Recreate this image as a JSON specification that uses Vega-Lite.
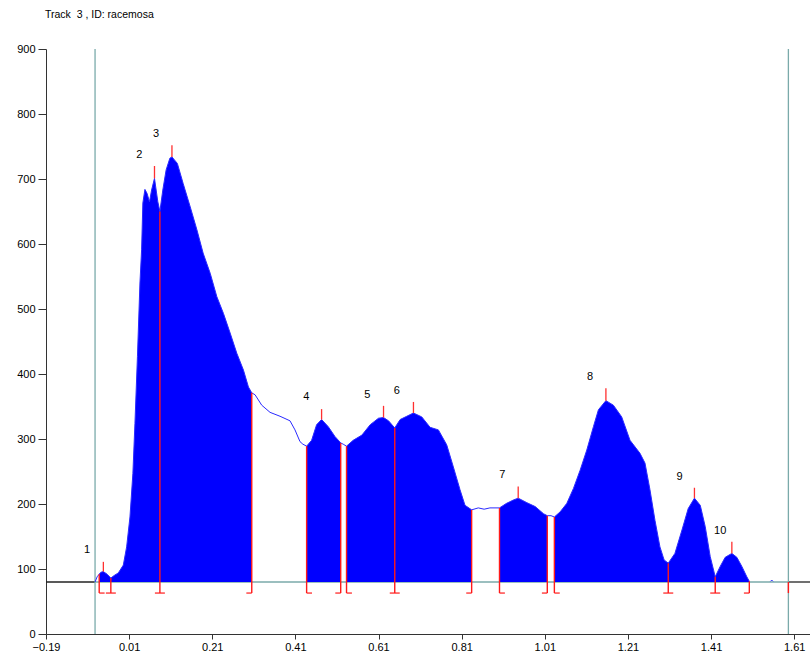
{
  "$schema": "https://vega.github.io/schema/vega-lite/v6.json",
  "width": 764,
  "height": 585,
  "autosize": {"type": "none"},
  "padding": {"left": 46, "top": 49, "right": 0, "bottom": 19},
  "background": "white",
  "title": {"text": "Track \u00a03 , ID: racemosa", "anchor": "start", "frame": "group", "offset": 23, "fontSize": 10.5, "fontWeight": "normal", "font": "Liberation Sans", "color": "black", "dx": -1},
  "config": {
    "view": {"stroke": null},
    "axis": {"grid": false, "domainColor": "#333333", "tickColor": "#333333", "labelColor": "black", "labelFont": "Liberation Sans", "labelFontSize": 11, "titleFontSize": 0, "labelFlush": false, "labelOverlap": false}
  },
  "datasets": {
    "curve": [
      {"x": -0.072, "y": 80, "g": 0, "p": 1},
      {"x": -0.067, "y": 88, "g": 0, "p": 1},
      {"x": -0.062, "y": 92, "g": 1, "p": 1},
      {"x": -0.058, "y": 95, "g": 1, "p": 1},
      {"x": -0.052, "y": 96, "g": 1, "p": 1},
      {"x": -0.043, "y": 92, "g": 1, "p": 1},
      {"x": -0.034, "y": 86, "g": 1, "p": 1},
      {"x": -0.026, "y": 90, "g": 1, "p": 1},
      {"x": -0.016, "y": 94, "g": 1, "p": 1},
      {"x": -0.004, "y": 106, "g": 1, "p": 1},
      {"x": 0.004, "y": 134, "g": 1, "p": 1},
      {"x": 0.012, "y": 180, "g": 1, "p": 1},
      {"x": 0.019, "y": 247, "g": 1, "p": 1},
      {"x": 0.024, "y": 324, "g": 1, "p": 1},
      {"x": 0.030, "y": 427, "g": 1, "p": 1},
      {"x": 0.036, "y": 540, "g": 1, "p": 1},
      {"x": 0.040, "y": 591, "g": 1, "p": 1},
      {"x": 0.043, "y": 663, "g": 1, "p": 1},
      {"x": 0.048, "y": 684, "g": 1, "p": 1},
      {"x": 0.053, "y": 678, "g": 1, "p": 1},
      {"x": 0.059, "y": 665, "g": 1, "p": 1},
      {"x": 0.064, "y": 683, "g": 1, "p": 1},
      {"x": 0.071, "y": 701, "g": 1, "p": 1},
      {"x": 0.079, "y": 665, "g": 1, "p": 1},
      {"x": 0.084, "y": 650, "g": 1, "p": 1},
      {"x": 0.091, "y": 683, "g": 1, "p": 1},
      {"x": 0.099, "y": 714, "g": 1, "p": 1},
      {"x": 0.108, "y": 732, "g": 1, "p": 1},
      {"x": 0.113, "y": 734, "g": 1, "p": 1},
      {"x": 0.126, "y": 724, "g": 1, "p": 1},
      {"x": 0.140, "y": 693, "g": 1, "p": 1},
      {"x": 0.157, "y": 657, "g": 1, "p": 1},
      {"x": 0.173, "y": 622, "g": 1, "p": 1},
      {"x": 0.188, "y": 586, "g": 1, "p": 1},
      {"x": 0.205, "y": 555, "g": 1, "p": 1},
      {"x": 0.221, "y": 519, "g": 1, "p": 1},
      {"x": 0.237, "y": 493, "g": 1, "p": 1},
      {"x": 0.253, "y": 463, "g": 1, "p": 1},
      {"x": 0.269, "y": 432, "g": 1, "p": 1},
      {"x": 0.285, "y": 406, "g": 1, "p": 1},
      {"x": 0.297, "y": 380, "g": 1, "p": 1},
      {"x": 0.305, "y": 371, "g": 1, "p": 1},
      {"x": 0.313, "y": 368, "g": 0, "p": 1},
      {"x": 0.329, "y": 352, "g": 0, "p": 1},
      {"x": 0.349, "y": 341, "g": 0, "p": 1},
      {"x": 0.373, "y": 335, "g": 0, "p": 1},
      {"x": 0.397, "y": 328, "g": 0, "p": 1},
      {"x": 0.409, "y": 314, "g": 0, "p": 1},
      {"x": 0.421, "y": 296, "g": 0, "p": 1},
      {"x": 0.428, "y": 292, "g": 0, "p": 1},
      {"x": 0.437, "y": 289, "g": 2, "p": 1},
      {"x": 0.449, "y": 298, "g": 2, "p": 1},
      {"x": 0.461, "y": 322, "g": 2, "p": 1},
      {"x": 0.473, "y": 330, "g": 2, "p": 1},
      {"x": 0.489, "y": 319, "g": 2, "p": 1},
      {"x": 0.505, "y": 304, "g": 2, "p": 1},
      {"x": 0.519, "y": 294, "g": 2, "p": 1},
      {"x": 0.525, "y": 292, "g": 0, "p": 1},
      {"x": 0.533, "y": 289, "g": 3, "p": 1},
      {"x": 0.549, "y": 298, "g": 3, "p": 1},
      {"x": 0.570, "y": 306, "g": 3, "p": 1},
      {"x": 0.590, "y": 322, "g": 3, "p": 1},
      {"x": 0.610, "y": 332, "g": 3, "p": 1},
      {"x": 0.622, "y": 333, "g": 3, "p": 1},
      {"x": 0.634, "y": 328, "g": 3, "p": 1},
      {"x": 0.649, "y": 317, "g": 3, "p": 1},
      {"x": 0.662, "y": 330, "g": 3, "p": 1},
      {"x": 0.678, "y": 335, "g": 3, "p": 1},
      {"x": 0.694, "y": 340, "g": 3, "p": 1},
      {"x": 0.714, "y": 334, "g": 3, "p": 1},
      {"x": 0.734, "y": 318, "g": 3, "p": 1},
      {"x": 0.754, "y": 314, "g": 3, "p": 1},
      {"x": 0.774, "y": 291, "g": 3, "p": 1},
      {"x": 0.790, "y": 257, "g": 3, "p": 1},
      {"x": 0.806, "y": 222, "g": 3, "p": 1},
      {"x": 0.818, "y": 198, "g": 3, "p": 1},
      {"x": 0.834, "y": 191, "g": 3, "p": 1},
      {"x": 0.850, "y": 194, "g": 0, "p": 1},
      {"x": 0.864, "y": 192, "g": 0, "p": 1},
      {"x": 0.878, "y": 194, "g": 0, "p": 1},
      {"x": 0.901, "y": 194, "g": 4, "p": 1},
      {"x": 0.918, "y": 201, "g": 4, "p": 1},
      {"x": 0.934, "y": 206, "g": 4, "p": 1},
      {"x": 0.946, "y": 209, "g": 4, "p": 1},
      {"x": 0.967, "y": 202, "g": 4, "p": 1},
      {"x": 0.987, "y": 196, "g": 4, "p": 1},
      {"x": 1.007, "y": 185, "g": 4, "p": 1},
      {"x": 1.016, "y": 182, "g": 4, "p": 1},
      {"x": 1.025, "y": 182, "g": 0, "p": 1},
      {"x": 1.033, "y": 180, "g": 5, "p": 1},
      {"x": 1.047, "y": 188, "g": 5, "p": 1},
      {"x": 1.063, "y": 201, "g": 5, "p": 1},
      {"x": 1.079, "y": 224, "g": 5, "p": 1},
      {"x": 1.095, "y": 252, "g": 5, "p": 1},
      {"x": 1.111, "y": 283, "g": 5, "p": 1},
      {"x": 1.127, "y": 319, "g": 5, "p": 1},
      {"x": 1.139, "y": 345, "g": 5, "p": 1},
      {"x": 1.157, "y": 359, "g": 5, "p": 1},
      {"x": 1.175, "y": 352, "g": 5, "p": 1},
      {"x": 1.195, "y": 334, "g": 5, "p": 1},
      {"x": 1.215, "y": 298, "g": 5, "p": 1},
      {"x": 1.239, "y": 278, "g": 5, "p": 1},
      {"x": 1.251, "y": 263, "g": 5, "p": 1},
      {"x": 1.263, "y": 222, "g": 5, "p": 1},
      {"x": 1.275, "y": 175, "g": 5, "p": 1},
      {"x": 1.287, "y": 134, "g": 5, "p": 1},
      {"x": 1.297, "y": 114, "g": 5, "p": 1},
      {"x": 1.307, "y": 109, "g": 5, "p": 1},
      {"x": 1.323, "y": 124, "g": 5, "p": 1},
      {"x": 1.340, "y": 160, "g": 5, "p": 1},
      {"x": 1.355, "y": 193, "g": 5, "p": 1},
      {"x": 1.370, "y": 209, "g": 5, "p": 1},
      {"x": 1.384, "y": 198, "g": 5, "p": 1},
      {"x": 1.396, "y": 165, "g": 5, "p": 1},
      {"x": 1.408, "y": 119, "g": 5, "p": 1},
      {"x": 1.420, "y": 88, "g": 5, "p": 1},
      {"x": 1.432, "y": 104, "g": 5, "p": 1},
      {"x": 1.444, "y": 118, "g": 5, "p": 1},
      {"x": 1.460, "y": 124, "g": 5, "p": 1},
      {"x": 1.472, "y": 118, "g": 5, "p": 1},
      {"x": 1.484, "y": 104, "g": 5, "p": 1},
      {"x": 1.496, "y": 88, "g": 5, "p": 1},
      {"x": 1.502, "y": 81, "g": 5, "p": 1},
      {"x": 1.553, "y": 81, "g": 0, "p": 2},
      {"x": 1.556, "y": 83, "g": 0, "p": 2},
      {"x": 1.559, "y": 81, "g": 0, "p": 2}
    ],
    "bounds": [
      {"x": -0.062, "top": 92, "f1": -0.062, "f2": -0.049},
      {"x": -0.034, "top": 86, "f1": -0.046, "f2": -0.022},
      {"x": 0.084, "top": 650, "f1": 0.072, "f2": 0.096},
      {"x": 0.305, "top": 371, "f1": 0.292, "f2": 0.305},
      {"x": 0.437, "top": 289, "f1": 0.437, "f2": 0.450},
      {"x": 0.519, "top": 294, "f1": 0.506, "f2": 0.519},
      {"x": 0.533, "top": 289, "f1": 0.533, "f2": 0.546},
      {"x": 0.649, "top": 317, "f1": 0.637, "f2": 0.661},
      {"x": 0.834, "top": 191, "f1": 0.821, "f2": 0.834},
      {"x": 0.901, "top": 194, "f1": 0.901, "f2": 0.914},
      {"x": 1.016, "top": 182, "f1": 1.003, "f2": 1.016},
      {"x": 1.033, "top": 180, "f1": 1.033, "f2": 1.046},
      {"x": 1.307, "top": 109, "f1": 1.295, "f2": 1.319},
      {"x": 1.420, "top": 88, "f1": 1.408, "f2": 1.432},
      {"x": 1.502, "top": 81, "f1": 1.489, "f2": 1.502}
    ],
    "peaks": [
      {"x": -0.052, "v": 96, "top": 111, "label": "1", "lx": -0.091, "ly": 129},
      {"x": 0.071, "v": 701, "top": 720, "label": "2", "lx": 0.0345, "ly": 737},
      {"x": 0.113, "v": 734, "top": 752, "label": "3", "lx": 0.075, "ly": 769},
      {"x": 0.473, "v": 330, "top": 346, "label": "4", "lx": 0.436, "ly": 364},
      {"x": 0.622, "v": 333, "top": 351, "label": "5", "lx": 0.583, "ly": 368},
      {"x": 0.694, "v": 340, "top": 357, "label": "6", "lx": 0.654, "ly": 374},
      {"x": 0.946, "v": 209, "top": 227, "label": "7", "lx": 0.908, "ly": 244},
      {"x": 1.157, "v": 359, "top": 378, "label": "8", "lx": 1.119, "ly": 396},
      {"x": 1.370, "v": 209, "top": 225, "label": "9", "lx": 1.334, "ly": 242},
      {"x": 1.460, "v": 124, "top": 142, "label": "10", "lx": 1.432, "ly": 159}
    ],
    "markers": [{"x": -0.072}, {"x": 1.596}],
    "baseline": [
      {"x1": -0.19, "x2": -0.072, "seg": "outside"},
      {"x1": -0.072, "x2": 1.596, "seg": "inside"},
      {"x1": 1.596, "x2": 1.648, "seg": "outside"}
    ]
  },
  "layer": [
    {
      "data": {"name": "baseline"},
      "mark": {"type": "rule", "strokeWidth": 1.3, "clip": true},
      "encoding": {
        "x": {"field": "x1", "type": "quantitative", "title": null},
        "x2": {"field": "x2"},
        "y": {"datum": 80},
        "color": {"field": "seg", "type": "nominal", "legend": null,
                  "scale": {"domain": ["outside", "inside"], "range": ["#222222", "#7aaaaa"]}}
      }
    },
    {
      "data": {"name": "curve"},
      "transform": [{"filter": "datum.g > 0"}],
      "mark": {"type": "area", "color": "#0000ff", "opacity": 1},
      "encoding": {
        "x": {"field": "x", "type": "quantitative", "title": null,
              "scale": {"domain": [-0.19, 1.648], "nice": false, "zero": false},
              "axis": {"values": [-0.19, 0.01, 0.21, 0.41, 0.61, 0.81, 1.01, 1.21, 1.41, 1.61], "format": ".2f", "tickSize": 5, "labelPadding": 2}},
        "y": {"field": "y", "type": "quantitative", "title": null,
              "scale": {"domain": [0, 900], "nice": false, "zero": true},
              "axis": {"values": [0, 100, 200, 300, 400, 500, 600, 700, 800, 900], "format": "d", "tickSize": 8, "labelPadding": 3}},
        "y2": {"datum": 80},
        "detail": {"field": "g", "type": "nominal"}
      }
    },
    {
      "data": {"name": "markers"},
      "mark": {"type": "rule", "color": "#7aaaaa", "strokeWidth": 1.3},
      "encoding": {
        "x": {"field": "x", "type": "quantitative", "title": null},
        "y": {"datum": 0},
        "y2": {"datum": 900}
      }
    },
    {
      "data": {"name": "curve"},
      "mark": {"type": "line", "color": "#2a2aff", "strokeWidth": 1},
      "encoding": {
        "x": {"field": "x", "type": "quantitative", "title": null},
        "y": {"field": "y", "type": "quantitative", "title": null},
        "detail": {"field": "p", "type": "nominal"}
      }
    },
    {
      "data": {"name": "bounds"},
      "mark": {"type": "rule", "color": "#ff1a1a", "strokeWidth": 1.4},
      "encoding": {
        "x": {"field": "x", "type": "quantitative", "title": null},
        "y": {"field": "top", "type": "quantitative", "title": null},
        "y2": {"datum": 63}
      }
    },
    {
      "data": {"name": "bounds"},
      "mark": {"type": "rule", "color": "#ff1a1a", "strokeWidth": 1.2},
      "encoding": {
        "x": {"field": "f1", "type": "quantitative", "title": null},
        "x2": {"field": "f2"},
        "y": {"datum": 63}
      }
    },
    {
      "data": {"values": [{"x": 1.596, "top": 80}]},
      "mark": {"type": "rule", "color": "#ff1a1a", "strokeWidth": 1.4},
      "encoding": {
        "x": {"field": "x", "type": "quantitative", "title": null},
        "y": {"field": "top", "type": "quantitative", "title": null},
        "y2": {"datum": 63}
      }
    },
    {
      "data": {"name": "peaks"},
      "mark": {"type": "rule", "color": "#ff3030", "strokeWidth": 1.3},
      "encoding": {
        "x": {"field": "x", "type": "quantitative", "title": null},
        "y": {"field": "v", "type": "quantitative", "title": null},
        "y2": {"field": "top"}
      }
    },
    {
      "data": {"name": "peaks"},
      "mark": {"type": "text", "font": "Liberation Sans", "fontSize": 11, "color": "black", "align": "center", "baseline": "middle"},
      "encoding": {
        "x": {"field": "lx", "type": "quantitative", "title": null},
        "y": {"field": "ly", "type": "quantitative", "title": null},
        "text": {"field": "label", "type": "nominal"}
      }
    }
  ]
}
